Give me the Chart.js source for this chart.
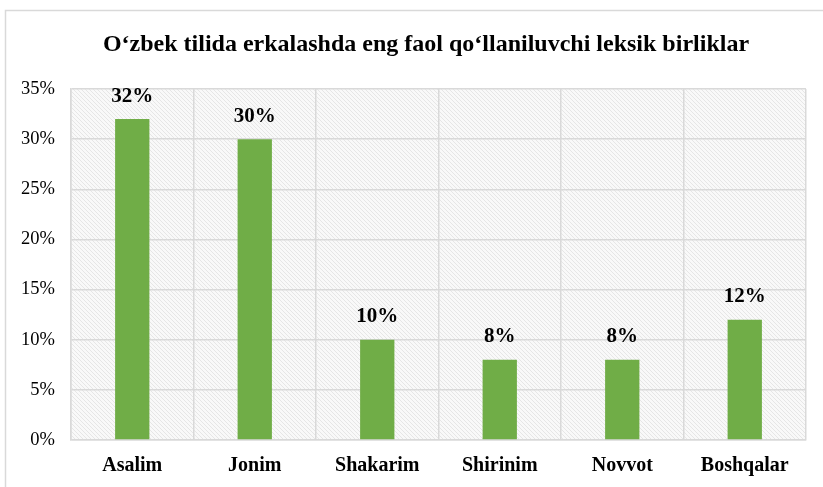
<!DOCTYPE html>
<html>
<head>
<meta charset="utf-8">
<script src="https://cdn.jsdelivr.net/npm/chart.js@4/dist/chart.umd.min.js"></script>
<style>
  html, body { margin: 0; padding: 0; background: #fff; }
  #wrap { width: 823px; height: 487px; }
</style>
</head>
<body>
<div id="wrap"><canvas id="chart" width="823" height="487"></canvas></div>
<script>
// data
var TitleText = 'O‘zbek tilida erkalashda eng faol qo‘llaniluvchi leksik birliklar'
var Categories = ['Asalim', 'Jonim', 'Shakarim', 'Shirinim', 'Novvot', 'Boshqalar']
var Values = [32, 30, 10, 8, 8, 12]
var YMax = 35
var YStep = 5

var FontFamily = '"Liberation Serif", "Times New Roman", serif'

// hatch pattern for the plot area
function makePattern(ctx){
  var c = document.createElement('canvas')
  c.width = 4; c.height = 4
  var p = c.getContext('2d')
  p.fillStyle = '#f9f9f9'
  p.fillRect(0, 0, 4, 4)
  p.strokeStyle = '#e6e6e6'
  p.lineWidth = 1
  p.beginPath()
  p.moveTo(0, 0); p.lineTo(4, 4)
  p.moveTo(-1, 3); p.lineTo(1, 5)
  p.moveTo(3, -1); p.lineTo(5, 1)
  p.stroke()
  return ctx.createPattern(c, 'repeat')
}

var framePlugin = {
  id: 'frame',
  beforeDraw: function(chart){
    var ctx = chart.ctx
    var a = chart.chartArea
    ctx.save()
    // outer frame
    ctx.strokeStyle = '#d9d9d9'
    ctx.lineWidth = 1.5
    ctx.strokeRect(5.5, 10.5, 900, 600)
    // plot background
    ctx.fillStyle = makePattern(ctx)
    ctx.fillRect(a.left, a.top, a.right - a.left, a.bottom - a.top)
    // title
    ctx.fillStyle = '#000'
    ctx.font = 'bold 24px ' + FontFamily
    ctx.textAlign = 'center'
    ctx.textBaseline = 'middle'
    ctx.fillText(TitleText, 426, 45)
    ctx.restore()
  },
  afterDatasetsDraw: function(chart){
    var ctx = chart.ctx
    var meta = chart.getDatasetMeta(0)
    ctx.save()
    ctx.fillStyle = '#000'
    ctx.font = 'bold 21px ' + FontFamily
    ctx.textAlign = 'center'
    ctx.textBaseline = 'middle'
    meta.data.forEach(function(bar, i){
      ctx.fillText(Values[i] + '%', bar.x, bar.y - 23)
    })
    ctx.restore()
  }
}

const ctx = document.getElementById('chart')
var ReportChart = new Chart(ctx, {
  type: 'bar',
  data: {
    labels: Categories,
    datasets: [{
      data: Values,
      backgroundColor: '#70ad47',
      borderWidth: 0,
      barPercentage: 0.56,
      categoryPercentage: 0.5
    }]
  },
  options: {
    responsive: false,
    animation: false,
    layout: { padding: { left: 0, top: 89, right: 17, bottom: 0 } },
    plugins: {
      legend: { display: false },
      tooltip: { enabled: false },
      title: { display: false }
    },
    scales: {
      x: {
        grid: { color: '#d9d9d9', lineWidth: 1.5, drawTicks: false, offset: true },
        border: { color: '#d9d9d9', width: 1.5 },
        ticks: {
          color: '#000',
          padding: 14,
          font: { family: FontFamily, size: 20, weight: 'bold' }
        },
        afterFit: function(s){ s.height = 47 }
      },
      y: {
        min: 0,
        max: YMax,
        grid: { color: '#d9d9d9', lineWidth: 1.5, drawTicks: false },
        border: { color: '#d9d9d9', width: 1.5 },
        ticks: {
          stepSize: YStep,
          color: '#000',
          padding: 16,
          font: { family: FontFamily, size: 18.5 },
          callback: function(v){ return v + '%' }
        },
        afterFit: function(s){ s.width = 71 }
      }
    }
  },
  plugins: [framePlugin]
})
</script>
</body>
</html>
